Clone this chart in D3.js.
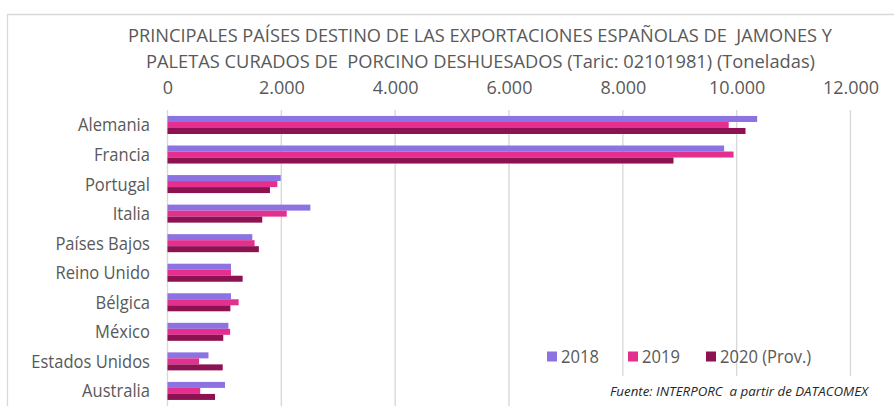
<!DOCTYPE html>
<html>
<head>
<meta charset="utf-8">
<script src="https://cdn.jsdelivr.net/npm/d3@7"></script>
<style>
  html, body { margin: 0; padding: 0; background: #fff; }
  svg { display: block; }
  text { font-family: "Open Sans", "Noto Sans", sans-serif; white-space: pre; }
</style>
</head>
<body>
<svg id="chart" width="894" height="406"></svg>
<script>
// Export volumes (tonnes) by destination country
const countries = ["Alemania", "Francia", "Portugal", "Italia", "Países Bajos",
  "Reino Unido", "Bélgica", "México", "Estados Unidos", "Australia"];
const seriesNames = ["2018", "2019", "2020 (Prov.)"];
const values2018 = [10360, 9780, 1990, 2510, 1490, 1115, 1115, 1070, 720, 1010];
const values2019 = [9860, 9945, 1930, 2095, 1530, 1115, 1250, 1100, 555, 575];
const values2020 = [10155, 8890, 1800, 1665, 1605, 1320, 1105, 980, 970, 835];
const xTicks = [0, 2000, 4000, 6000, 8000, 10000, 12000];
const titleLines = [
  "PRINCIPALES PAÍSES DESTINO DE LAS EXPORTACIONES ESPAÑOLAS DE  JAMONES Y",
  "PALETAS CURADOS DE  PORCINO DESHUESADOS (Taric: 02101981) (Toneladas)"
];
const sourceText = "Fuente: INTERPORC  a partir de DATACOMEX";

const colors = ["#8c73e1", "#e3308e", "#8c1252"];
const series = [values2018, values2019, values2020];

const svg = d3.select("#chart");
const textColor = "#595959";
const gridColor = "#d9d9d9";

// outer frame of the chart area
svg.append("path")
  .attr("d", "M7.5,406 V14.5 H894")
  .attr("fill", "none")
  .attr("stroke", gridColor)
  .attr("stroke-width", 1.3);

const x = d3.scaleLinear().domain([0, 12000]).range([167.5, 850.5]);
const y = d3.scaleBand().domain(countries).range([110.2, 405.7])
  .paddingInner(0.39).paddingOuter(0.195);
const ySub = d3.scaleBand().domain(d3.range(series.length)).range([0, y.bandwidth()]);

// title
svg.append("g").selectAll("text").data(titleLines).join("text")
  .attr("x", (d, i) => i === 0 ? 128 : 146)
  .attr("y", (d, i) => i === 0 ? 42 : 68)
  .attr("textLength", (d, i) => i === 0 ? 704 : 669)
  .attr("lengthAdjust", "spacingAndGlyphs")
  .attr("font-size", 18.5)
  .attr("fill", textColor)
  .text(d => d);

// gridlines
svg.append("g").selectAll("line").data(xTicks).join("line")
  .attr("x1", d => x(d)).attr("x2", d => x(d))
  .attr("y1", 110).attr("y2", 406)
  .attr("stroke", gridColor)
  .attr("stroke-width", 1.4);

// top axis labels
const fmt = d3.formatLocale({ decimal: ",", thousands: ".", grouping: [3], currency: ["", "€"] }).format(",");
const xAxis = d3.axisTop(x).tickValues(xTicks).tickFormat(fmt).tickSize(0).tickPadding(0);
const axisG = svg.append("g").attr("transform", "translate(0,94)").call(xAxis);
axisG.select(".domain").remove();
axisG.selectAll("text")
  .attr("font-size", 18)
  .attr("font-family", "'Open Sans', sans-serif")
  .attr("fill", textColor)
  .attr("dy", 0);

// category labels
const labelG = svg.append("g").selectAll("g").data(countries).join("g")
  .attr("transform", d => `translate(150,${y(d) + y.bandwidth() / 2}) scale(0.92,1)`);
labelG.append("text")
  .attr("text-anchor", "end")
  .attr("dy", "0.36em")
  .attr("font-size", 18)
  .attr("fill", textColor)
  .text(d => d);

// bars
const groups = svg.append("g").selectAll("g").data(series).join("g")
  .attr("fill", (d, i) => colors[i]);
groups.each(function (vals, si) {
  d3.select(this).selectAll("rect").data(vals).join("rect")
    .attr("x", x(0))
    .attr("y", (d, i) => y(countries[i]) + ySub(si))
    .attr("width", d => x(d) - x(0))
    .attr("height", ySub.bandwidth());
});

// source note box
svg.append("rect")
  .attr("x", 600).attr("y", 376).attr("width", 294).attr("height", 30)
  .attr("fill", "#fff");
svg.append("text")
  .attr("x", 610).attr("y", 396)
  .attr("textLength", 258)
  .attr("lengthAdjust", "spacingAndGlyphs")
  .attr("font-size", 13.5)
  .attr("font-style", "italic")
  .attr("fill", "#262626")
  .text(sourceText);

// legend
const legendX = [547, 628, 706];
const legend = svg.append("g").selectAll("g").data(seriesNames).join("g")
  .attr("transform", (d, i) => `translate(${legendX[i]},356.5)`);
legend.append("rect")
  .attr("x", 0).attr("y", -5).attr("width", 10).attr("height", 10)
  .attr("fill", (d, i) => colors[i]);
legend.append("g")
  .attr("transform", "translate(14,0) scale(0.92,1)")
  .append("text")
  .attr("dy", "0.36em")
  .attr("font-size", 18)
  .attr("fill", textColor)
  .text(d => d);
</script>
</body>
</html>
